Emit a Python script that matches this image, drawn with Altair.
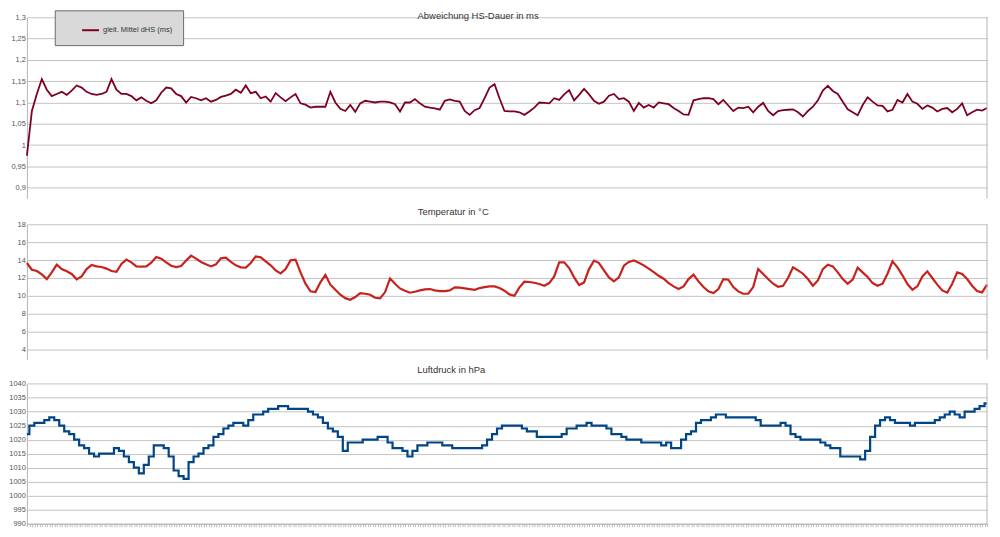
import altair as alt
import pandas as pd

# ---- data (one sample every ~5 px of the x axis) ----
dhs = [0.975, 1.08, 1.12, 1.155, 1.13, 1.115, 1.12, 1.125, 1.118, 1.128,
       1.14, 1.135, 1.125, 1.12, 1.118, 1.12, 1.125, 1.155, 1.13, 1.12,
       1.12, 1.115, 1.105, 1.112, 1.104, 1.098, 1.105, 1.123, 1.135, 1.133,
       1.12, 1.115, 1.1, 1.113, 1.11, 1.105, 1.11, 1.102, 1.106, 1.113,
       1.116, 1.12, 1.13, 1.123, 1.14, 1.122, 1.125, 1.11, 1.114, 1.102,
       1.122, 1.112, 1.103, 1.112, 1.12, 1.098, 1.095, 1.088, 1.09, 1.09,
       1.09, 1.125, 1.1, 1.085, 1.08,
       1.094, 1.078, 1.098, 1.104, 1.102, 1.1, 1.102, 1.102, 1.1, 1.096,
       1.079, 1.1, 1.1, 1.108, 1.098, 1.09, 1.088, 1.086, 1.083, 1.104,
       1.107, 1.104, 1.102, 1.08, 1.071, 1.082, 1.087, 1.11, 1.135, 1.143,
       1.11, 1.08, 1.079, 1.079, 1.077, 1.071, 1.079, 1.088, 1.1, 1.099,
       1.098, 1.11, 1.106, 1.119, 1.129, 1.105, 1.118, 1.132, 1.119, 1.104,
       1.097, 1.102, 1.116, 1.12, 1.108, 1.11, 1.102, 1.08, 1.099, 1.088,
       1.094, 1.088, 1.1, 1.098, 1.096, 1.087,
       1.08, 1.072, 1.071, 1.105, 1.108, 1.11, 1.11, 1.108, 1.096, 1.106,
       1.093, 1.08, 1.088, 1.087, 1.09, 1.077, 1.09, 1.099, 1.08, 1.07,
       1.08, 1.082, 1.083, 1.084, 1.077, 1.067, 1.08, 1.09, 1.105, 1.128,
       1.139, 1.127, 1.12, 1.102, 1.084, 1.077, 1.07, 1.094, 1.112, 1.102,
       1.093, 1.092, 1.079, 1.083, 1.106, 1.1, 1.12, 1.102, 1.097, 1.085,
       1.093, 1.088, 1.079, 1.085, 1.087, 1.077, 1.085, 1.098, 1.07, 1.077,
       1.083, 1.081, 1.087]

temp = [13.68, 12.93, 12.78, 12.41, 11.88, 12.63, 13.5, 13.0, 12.75, 12.45,
        11.85, 12.18, 13.0, 13.46, 13.3, 13.23, 13.05, 12.78, 12.7, 13.57,
        14.06, 13.76, 13.3, 13.27, 13.3, 13.72, 14.36, 14.17, 13.76, 13.38,
        13.23, 13.35, 13.95, 14.51, 14.17, 13.8, 13.53, 13.3, 13.53, 14.2,
        14.28, 13.8, 13.42, 13.2, 13.16, 13.68, 14.43, 14.32, 13.87, 13.42,
        12.86, 12.52, 13.0, 13.98, 14.06, 12.63, 11.36, 10.5, 10.42, 11.51,
        12.35, 11.25, 10.68, 10.12, 9.74,
        9.56, 9.86, 10.31, 10.23, 10.12, 9.78, 9.71, 10.42, 11.95, 11.36,
        10.83, 10.57, 10.35, 10.46, 10.61, 10.72, 10.76, 10.61, 10.53, 10.53,
        10.61, 10.95, 10.91, 10.83, 10.76, 10.68, 10.87, 10.98, 11.06, 11.06,
        10.87, 10.57, 10.16, 10.0, 10.95, 11.58, 11.55, 11.47, 11.32, 11.13,
        11.43, 12.18, 13.76, 13.76, 13.12, 12.07, 11.21, 11.51, 13.0, 13.95,
        13.68, 12.86, 12.07, 11.62, 12.07, 13.38, 13.8, 13.98, 13.72, 13.42,
        13.05, 12.67, 12.25, 11.92, 11.43, 11.06,
        10.76, 11.06, 11.88, 12.37, 11.62, 10.98, 10.5, 10.31, 10.76, 11.88,
        11.81, 10.98, 10.5, 10.23, 10.23, 10.98, 13.0, 12.45, 11.88, 11.36,
        11.02, 11.13, 12.0, 13.2, 12.86, 12.48, 11.88, 11.13, 11.73, 13.0,
        13.5, 13.3, 12.63, 11.88, 11.36, 11.81, 13.16, 12.63, 12.11, 11.43,
        11.13, 11.36, 12.48, 13.87, 13.2, 12.3, 11.32, 10.68, 11.06, 12.18,
        12.75, 12.0, 11.25, 10.61, 10.35, 11.36, 12.63, 12.45, 11.88, 11.13,
        10.53, 10.38, 11.25]

pres = [1022, 1025, 1026, 1026, 1027, 1028, 1027, 1025, 1023, 1022,
        1020, 1018, 1017, 1015, 1014, 1015, 1015, 1015, 1017, 1016,
        1014, 1012, 1010, 1008, 1011, 1014, 1018, 1018, 1017, 1014,
        1009, 1007, 1006, 1012, 1014, 1015, 1017, 1018, 1021, 1022,
        1024, 1025, 1026, 1026, 1025, 1027, 1029, 1029, 1030, 1031,
        1031, 1032, 1032, 1031, 1031, 1031, 1031, 1030, 1029, 1028,
        1026, 1024, 1023, 1021, 1016,
        1019, 1019, 1019, 1020, 1020, 1020, 1021, 1021, 1019, 1017,
        1017, 1016, 1014, 1016, 1018, 1018, 1019, 1019, 1019, 1018,
        1018, 1017, 1017, 1017, 1017, 1017, 1017, 1018, 1020, 1022,
        1024, 1025, 1025, 1025, 1025, 1024, 1023, 1023, 1021, 1021,
        1021, 1021, 1021, 1022, 1024, 1024, 1025, 1025, 1026, 1025,
        1025, 1025, 1024, 1022, 1022, 1021, 1020, 1020, 1020, 1019,
        1019, 1019, 1019, 1018, 1019, 1017,
        1017, 1020, 1022, 1023, 1026, 1027, 1027, 1028, 1029, 1029,
        1028, 1028, 1028, 1028, 1028, 1028, 1027, 1025, 1025, 1025,
        1025, 1026, 1025, 1022, 1021, 1020, 1020, 1020, 1020, 1019,
        1018, 1017, 1017, 1014, 1014, 1014, 1014, 1013, 1016, 1021,
        1025, 1027, 1028, 1027, 1026, 1026, 1026, 1025, 1026, 1026,
        1026, 1026, 1027, 1028, 1029, 1030, 1029, 1028, 1030, 1030,
        1031, 1032, 1033]

ticks_dhs = [0.9, 0.95, 1.0, 1.05, 1.1, 1.15, 1.2, 1.25, 1.3]
ticks_temp = [4, 6, 8, 10, 12, 14, 16, 18]
ticks_pres = [990, 995, 1000, 1005, 1010, 1015, 1020, 1025, 1030, 1035, 1040]

series_name = "gleit. Mittel dHS (ms)"
title_dhs = "Abweichung HS-Dauer in ms"
title_temp = "Temperatur in °C"
title_pres = "Luftdruck in hPa"

N = len(dhs)
idx = list(range(N))
df1 = pd.DataFrame({"i": idx, "v": dhs, "s": [series_name] * N})
df2 = pd.DataFrame({"i": idx, "v": temp})
df3 = pd.DataFrame({"i": idx, "v": pres})
one = pd.DataFrame({"a": [0]})

W = 965
H = 516
FONT = "Liberation Sans"
GRID = "#c4c4c4"
FRAME = "#b3b3b3"

xs = alt.Scale(domain=[0, N - 1], nice=False, zero=False)
xaxis = alt.Axis(values=[k / 2 for k in range(2 * (N - 1) + 1)], labels=False,
                 ticks=True, tickSize=3, tickColor="#bdbdbd", domainColor=FRAME,
                 grid=False, title=None)


def yaxis(vals, title, tx, ty, fmt=None, expr=None):
    kw = dict(values=vals, orient="left", title=title, titleAngle=0, titleX=tx, titleY=ty,
              titleAlign="center", titleBaseline="middle", titleFontSize=9.5,
              titleFontWeight="normal", titleColor="#333333", titleFont=FONT,
              labelFont=FONT, labelFontSize=7.5, labelColor="#555555", labelPadding=1.5,
              ticks=False, domainColor=FRAME, gridColor=GRID, grid=True,
              labelOverlap=False, labelFlush=False)
    if fmt:
        kw["format"] = fmt
    if expr:
        kw["labelExpr"] = expr
    return alt.Axis(**kw)


s1 = alt.Scale(domain=[0.875, 1.3], range=[189, 7], nice=False, zero=False)
s2 = alt.Scale(domain=[2.85, 18], range=[351, 215.3], nice=False, zero=False)
s3 = alt.Scale(domain=[990, 1040], range=[516, 375.3], nice=False, zero=False)

a1 = yaxis(ticks_dhs, title_dhs, 453, 4.75, expr="replace(toString(datum.value), '.', ',')")
a2 = yaxis(ticks_temp, title_temp, 428, 202.7, fmt="d")
a3 = yaxis(ticks_pres, title_pres, 426, 361.5, fmt="d")

line1 = alt.Chart(df1).mark_line(strokeWidth=1.8).encode(
    x=alt.X("i:Q", scale=xs, axis=xaxis),
    y=alt.Y("v:Q", scale=s1, axis=a1),
    color=alt.Color("s:N", scale=alt.Scale(domain=[series_name], range=["#7e0021"]),
                    legend=alt.Legend(title=None, orient="none", legendX=28, legendY=0,
                                      fillColor="#d9d9d9", strokeColor="#6b6b6b",
                                      padding=10.5, symbolType="stroke", symbolSize=289,
                                      symbolStrokeWidth=2, symbolOffset=16,
                                      labelFont=FONT, labelFontSize=7.5,
                                      labelColor="#333333", labelOffset=3)),
)
rule1 = alt.Chart(one).mark_rule(color=FRAME, strokeWidth=1).encode(
    x=alt.XDatum(N - 1, scale=xs, axis=xaxis),
    y=alt.YDatum(1.3, scale=s1, axis=a1),
    y2=alt.Y2Datum(0.875),
)
L1 = alt.layer(line1, rule1)

line2 = alt.Chart(df2).mark_line(strokeWidth=2.2, color="#c9211e").encode(
    x=alt.X("i:Q", scale=xs, axis=xaxis),
    y=alt.Y("v:Q", scale=s2, axis=a2),
)
rule2 = alt.Chart(one).mark_rule(color=FRAME, strokeWidth=1).encode(
    x=alt.XDatum(N - 1, scale=xs, axis=xaxis),
    y=alt.YDatum(18, scale=s2, axis=a2),
    y2=alt.Y2Datum(2.85),
)
L2 = alt.layer(line2, rule2)

line3 = alt.Chart(df3).mark_line(strokeWidth=2.2, color="#004586", interpolate="step").encode(
    x=alt.X("i:Q", scale=xs, axis=xaxis),
    y=alt.Y("v:Q", scale=s3, axis=a3),
)
rule3 = alt.Chart(one).mark_rule(color=FRAME, strokeWidth=1).encode(
    x=alt.XDatum(N - 1, scale=xs, axis=xaxis),
    y=alt.YDatum(1040, scale=s3, axis=a3),
    y2=alt.Y2Datum(990),
)
L3 = alt.layer(line3, rule3)

chart = (
    alt.layer(L1, L2, L3)
    .resolve_scale(y="independent")
    .resolve_axis(y="independent")
    .properties(width=W, height=H, padding=0, background="white")
    .configure_view(stroke=None)
)

chart.save("out.html", embed_options={"renderer": "svg", "actions": False})
